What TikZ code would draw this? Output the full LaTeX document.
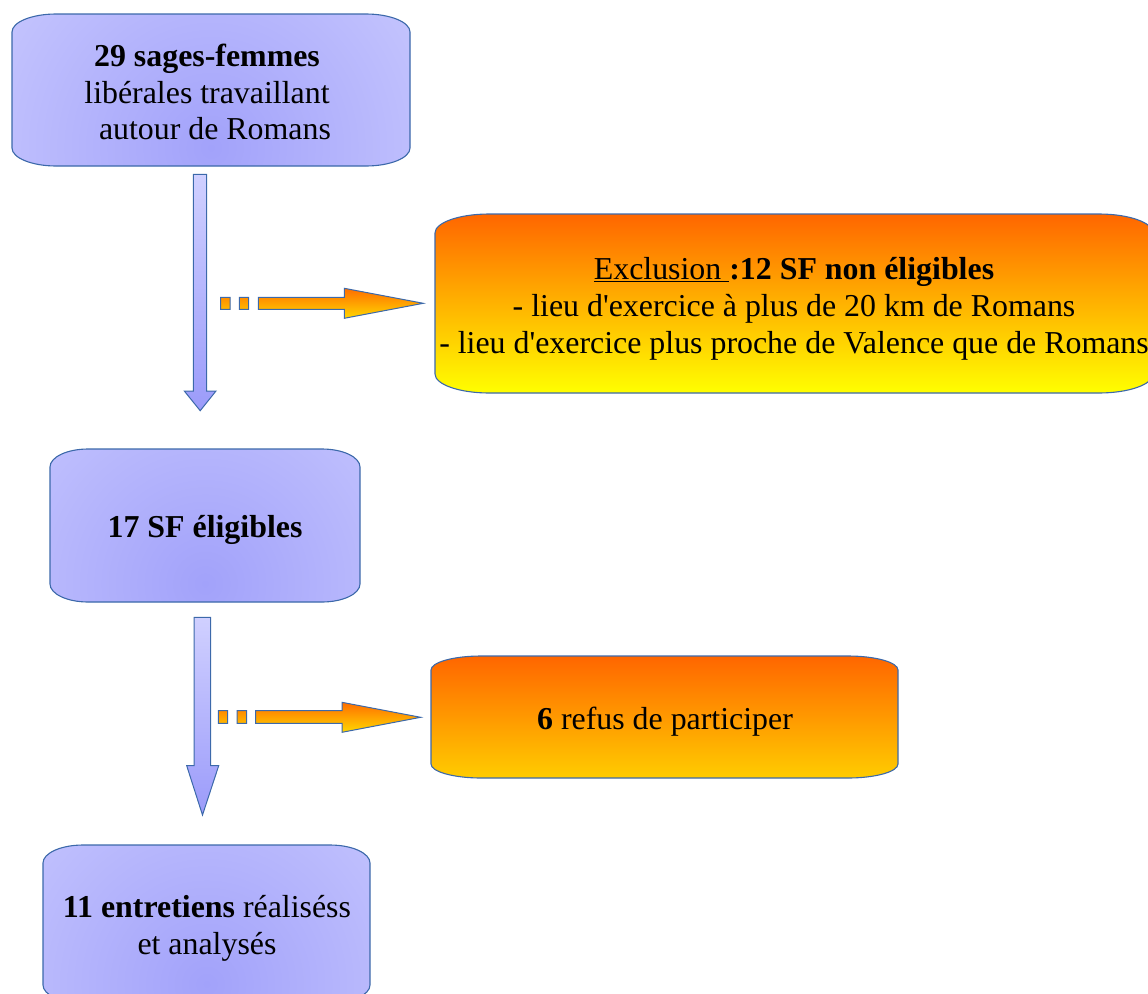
\documentclass[tikz,border=0pt]{standalone}
\usepackage{fontspec}
\setmainfont{Liberation Serif}
\usetikzlibrary{calc}
\definecolor{bOuter}{RGB}{208,208,255}
\definecolor{bInner}{RGB}{162,162,250}
\definecolor{edgeblue}{RGB}{60,105,170}
\definecolor{oTop}{RGB}{255,102,0}
\definecolor{oBot}{RGB}{255,255,0}
\definecolor{oBotB}{RGB}{255,204,0}
\definecolor{aTop}{RGB}{255,110,0}
\definecolor{aBot}{RGB}{255,215,0}
\definecolor{vTop}{RGB}{208,208,255}
\definecolor{vBot}{RGB}{155,155,250}
% elliptical-corner box: style, x0, y0, x1, y1, rx, ry
\newcommand\ebox[7]{%
  \path[#1] (#2,#3+#7) .. controls (#2,#3+0.45*#7) and (#2+0.45*#6,#3) .. (#2+#6,#3)
    -- (#4-#6,#3) .. controls (#4-0.45*#6,#3) and (#4,#3+0.45*#7) .. (#4,#3+#7)
    -- (#4,#5-#7) .. controls (#4,#5-0.45*#7) and (#4-0.45*#6,#5) .. (#4-#6,#5)
    -- (#2+#6,#5) .. controls (#2+0.45*#6,#5) and (#2,#5-0.45*#7) .. (#2,#5-#7) -- cycle;}
\tikzset{
  bluebox/.style={draw=edgeblue, line width=1.1bp, fill=bOuter,
    path picture={\shade[inner color=bInner, outer color=bOuter]
      ($(path picture bounding box.south)!0.12!(path picture bounding box.north)$)
      circle [radius=330bp];}},
  orangebox/.style={draw=edgeblue, line width=1.1bp, top color=oTop, bottom color=#1},
  orangebox/.default=oBot,
  varrow/.style={draw=edgeblue, line width=1bp, top color=vTop, bottom color=vBot},
  harrow/.style={draw=edgeblue, line width=1bp, top color=aTop, bottom color=aBot},
  txt/.style={align=center, inner sep=0pt, font=\fontsize{32}{37}\selectfont, text=black}
}
\begin{document}
\begin{tikzpicture}[x=1bp, y=-1bp]
\path[use as bounding box] (0,0) rectangle (1148,994);
\clip (0,0) rectangle (1148,994);

% boxes
\ebox{bluebox}{12}{14}{410}{166}{44}{18}
\ebox{orangebox}{435}{214}{1153}{393}{54}{19}
\ebox{bluebox}{50}{449}{360}{602}{38}{18}
\ebox{orangebox=oBotB}{431}{656}{898}{778}{50}{14}
\ebox{bluebox}{43}{845}{370}{1003}{40}{18}

% texts
\node[txt] (sf) at (207,92) {\textbf{29 sages-femmes}\\libérales travaillant\\\hspace*{16bp}autour de Romans};
\node[txt] (excl) at (794,309) {\underline{Exclusion\ }\textbf{:12 SF non éligibles}\\- lieu d\textquotesingle exercice à plus de 20 km de Romans\\- lieu d\textquotesingle exercice plus proche de Valence que de Romans};
\node[txt] (elig) at (205,530) {\textbf{17 SF éligibles}};
\node[txt] (refus) at (665,722) {\textbf{6} refus de participer};
\node[txt] (entr) at (207,928) {\textbf{11 entretiens} réaliséss\\et analysés};

% vertical block arrows
\path[varrow] (193.3,174.3) -- (206.7,174.3) -- (206.7,391) -- (216,391) -- (200.2,410.7)
  -- (184.3,391) -- (193.3,391) -- cycle;
\path[varrow] (194,617.3) -- (210.7,617.3) -- (210.7,765.7) -- (218.7,765.7) -- (202.5,815)
  -- (186.7,765.7) -- (194,765.7) -- cycle;

% horizontal dashed block arrows
\path[harrow] (220.7,297.3) rectangle (230,309.3)
  (239.3,297.3) rectangle (248.7,309.3)
  (258.3,297.3) -- (344.3,297.3) -- (344.3,288.3) -- (423.3,303.3) -- (344.3,318.3)
  -- (344.3,309.3) -- (258.3,309.3) -- cycle;
\path[harrow] (218.3,710.7) rectangle (227.7,723.3)
  (237,710.7) rectangle (246.7,723.3)
  (255.7,710.7) -- (342,710.7) -- (342,702.3) -- (420.7,717.3) -- (342,732.3)
  -- (342,723.3) -- (255.7,723.3) -- cycle;
\end{tikzpicture}
\end{document}
